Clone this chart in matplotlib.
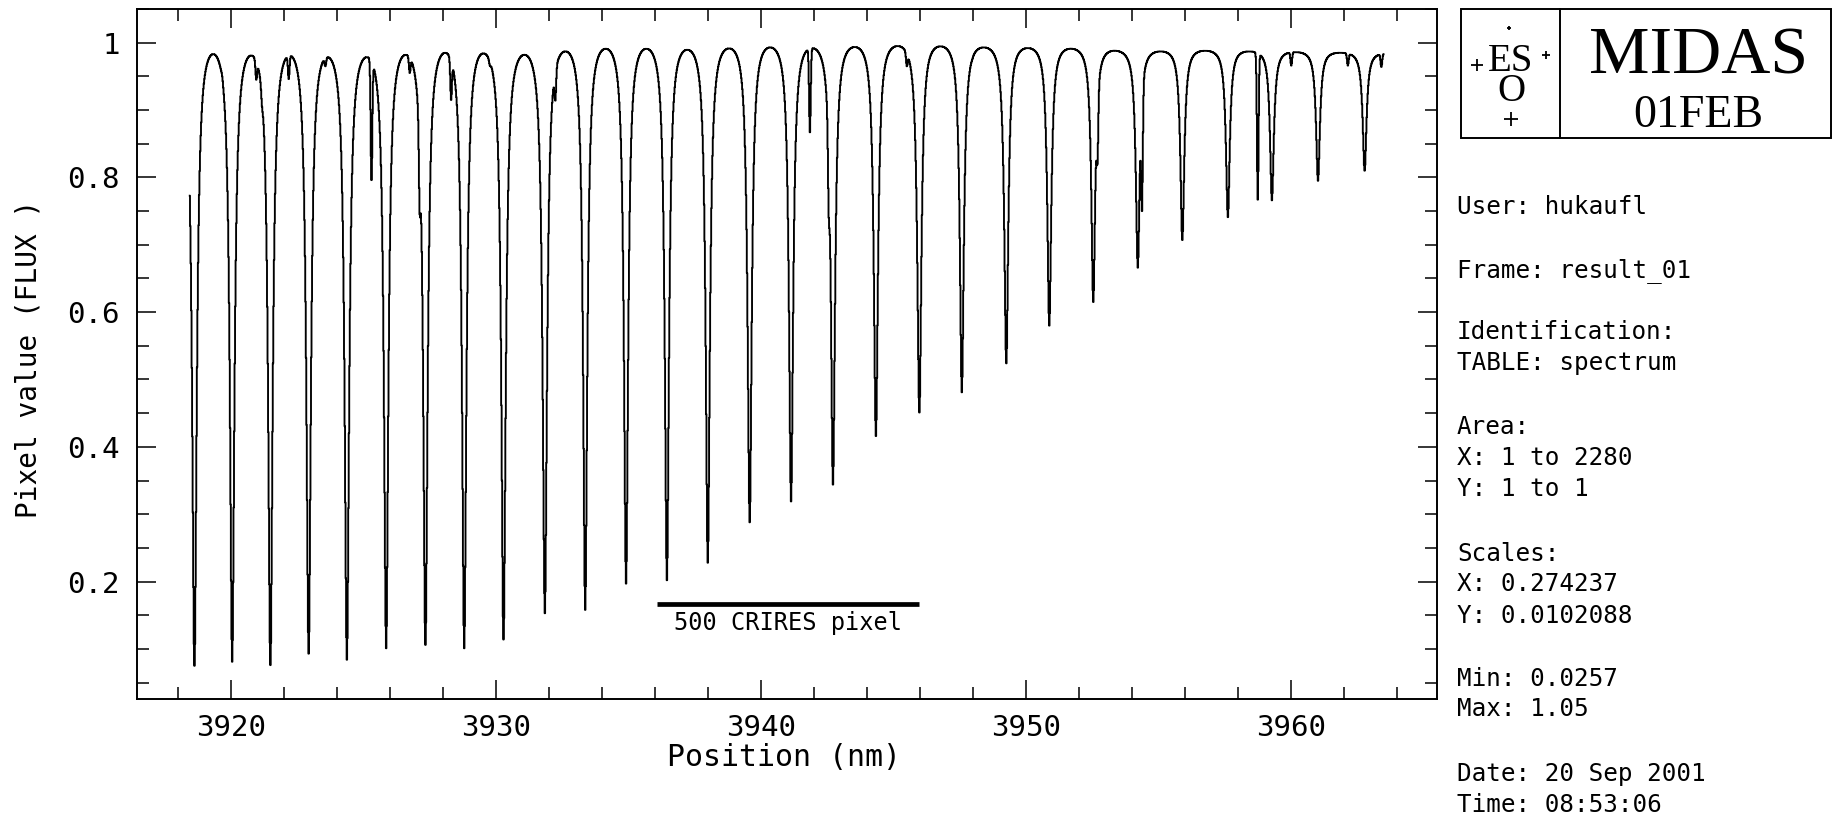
"""
CRIRES etalon spectrum, redrawn in the old MIDAS plot layout.
Writes out.png (1832 x 816 px).
"""
import numpy as np
import matplotlib
matplotlib.use("Agg")
import matplotlib.pyplot as plt
from matplotlib.lines import Line2D
from matplotlib.patches import Rectangle
from matplotlib.ticker import FixedLocator, FixedFormatter, MultipleLocator

# ──────────────────────────────────────────────────────────────────────────────
# Data
N_PIXELS = 2280
WAVE_START, WAVE_END = 3918.44, 3963.49      # nm, first / last pixel

# main (etalon) absorption lines: centre [nm], minimum flux, arch top after it,
# half width at half depth [nm]
line_center = [3918.61, 3920.04, 3921.48, 3922.93, 3924.38, 3925.85, 3927.33,
               3928.80, 3930.29, 3931.84, 3933.37, 3934.91, 3936.45, 3937.99,
               3939.57, 3941.14, 3942.72, 3944.34, 3945.97, 3947.58, 3949.25,
               3950.88, 3952.54, 3954.21, 3955.89, 3957.61, 3959.28, 3961.02,
               3962.77]
line_min = [0.075, 0.081, 0.076, 0.093, 0.084, 0.101, 0.106, 0.101, 0.114,
            0.153, 0.158, 0.197, 0.202, 0.228, 0.288, 0.319, 0.344, 0.416,
            0.451, 0.481, 0.524, 0.580, 0.615, 0.666, 0.707, 0.741, 0.766,
            0.795, 0.810]
line_peak = [0.984, 0.982, 0.980, 0.982, 0.975, 0.982, 0.982, 0.988, 0.980,
             0.984, 0.990, 0.992, 0.990, 0.989, 0.994, 0.992, 0.992, 0.995,
             0.995, 0.994, 0.992, 0.992, 0.990, 0.986, 0.988, 0.988, 0.986,
             0.986, 0.984]
line_hwhm = [0.106, 0.104, 0.104, 0.104, 0.104, 0.102, 0.102, 0.102, 0.102,
             0.102, 0.096, 0.096, 0.096, 0.096, 0.096, 0.096, 0.096, 0.096,
             0.096, 0.092, 0.092, 0.092, 0.090, 0.090, 0.090, 0.088, 0.088,
             0.088, 0.088]

# narrow extra (telluric) features: centre [nm], minimum flux
extra_center = [3919.66, 3920.95, 3921.17, 3922.18, 3923.56, 3925.30, 3926.75,
                3927.12, 3928.30, 3929.77, 3932.23, 3941.85, 3942.55, 3945.50,
                3947.28, 3947.97, 3952.70, 3954.38, 3958.75, 3960.02, 3962.15,
                3963.42]
extra_min = [0.950, 0.945, 0.905, 0.946, 0.965, 0.796, 0.955, 0.745, 0.915,
             0.966, 0.914, 0.867, 0.740, 0.965, 0.960, 0.975, 0.820, 0.750,
             0.767, 0.966, 0.966, 0.964]

SCALE_BAR_PIXELS = 500
SCALE_BAR_START = 3936.06
SCALE_BAR_LEVEL = 0.167
SCALE_BAR_TEXT = "500 CRIRES pixel"

XLIM = (3916.45, 3965.51)
YLIM = (0.0257, 1.05)
xticks_major = [3920, 3930, 3940, 3950, 3960]
xtick_labels = ["3920", "3930", "3940", "3950", "3960"]
yticks_major = [0.2, 0.4, 0.6, 0.8, 1.0]
ytick_labels = ["0.2", "0.4", "0.6", "0.8", "1"]

info_text = ["User: hukaufl", "Frame: result_01", "Identification:",
             "TABLE: spectrum", "Area:", "X: 1 to 2280", "Y: 1 to 1",
             "Scales:", "X: 0.274237", "Y: 0.0102088", "Min: 0.0257",
             "Max: 1.05", "Date: 20 Sep 2001", "Time: 08:53:06"]

# ──────────────────────────────────────────────────────────────────────────────
# Layout (pixel positions in the 1832 x 816 frame)
W, H = 1832, 816
AX_LEFT, AX_RIGHT, AX_TOP, AX_BOTTOM = 137, 1437, 9, 699
info_baseline = [214, 277, 339, 370, 434, 465, 496, 561, 591, 623, 686, 716,
                 781, 812]
MONO = "DejaVu Sans Mono"
SERIF = "Liberation Serif"


def fx(x):
    return x / W


def fy(y):
    return 1 - y / H


def build_spectrum():
    wl = np.linspace(WAVE_START, WAVE_END, N_PIXELS)
    c = np.asarray(line_center)
    c = wl[np.abs(wl[:, None] - c).argmin(axis=0)]      # snap to pixels
    d = np.asarray(line_min)
    p = np.asarray(line_peak)

    gaps = np.diff(c)
    period = np.empty_like(c)
    period[1:-1] = 0.5 * (gaps[:-1] + gaps[1:])
    period[0], period[-1] = gaps[0], gaps[-1]
    fin = (period / (np.pi * np.asarray(line_hwhm))) ** 2
    amp = (p - d) * (1 + fin) / fin
    env = d + amp

    idx = np.arange(len(c))
    c_ext = np.r_[c[0] - gaps[0], c, c[-1] + gaps[-1]]
    i_ext = np.r_[-1, idx, len(c)]
    phase = np.interp(wl, c_ext, i_ext)
    F = np.interp(phase, idx, fin)
    A = np.interp(phase, idx, amp)
    E = np.interp(phase, idx, env)
    flux = E - A / (1 + F * np.sin(np.pi * phase) ** 2)

    for cx, m in zip(extra_center, extra_min):
        k = np.abs(wl - cx).argmin()
        a = 1 - m / flux[k]
        flux = flux * (1 - a * np.exp(-0.5 * ((wl - wl[k]) / 0.03) ** 2))
    return wl, flux


def main():
    plt.rcParams["font.family"] = MONO
    wl, flux = build_spectrum()

    fig = plt.figure(figsize=(W / 100, H / 100), dpi=100, facecolor="white")
    ax = fig.add_axes([fx(AX_LEFT), fy(AX_BOTTOM),
                       (AX_RIGHT - AX_LEFT) / W, (AX_BOTTOM - AX_TOP) / H])

    ax.step(wl, flux, where="mid", color="black", lw=1.35)

    # scale bar
    step = (WAVE_END - WAVE_START) / (N_PIXELS - 1)
    x0, x1 = SCALE_BAR_START, SCALE_BAR_START + SCALE_BAR_PIXELS * step
    ax.plot([x0, x1], [SCALE_BAR_LEVEL] * 2, color="black", lw=3.4,
            solid_capstyle="butt")
    ax.text(0.5 * (x0 + x1), 0.128, SCALE_BAR_TEXT, ha="center",
            va="baseline", fontsize=17)

    ax.set_xlim(*XLIM)
    ax.set_ylim(*YLIM)
    ax.xaxis.set_major_locator(FixedLocator(xticks_major))
    ax.xaxis.set_major_formatter(FixedFormatter(xtick_labels))
    ax.xaxis.set_minor_locator(MultipleLocator(2))
    ax.yaxis.set_major_locator(FixedLocator(yticks_major))
    ax.yaxis.set_major_formatter(FixedFormatter(ytick_labels))
    ax.yaxis.set_minor_locator(MultipleLocator(0.05))
    ax.tick_params(which="both", direction="in", top=True, right=True,
                   width=1.1, labelsize=21, color="black")
    ax.tick_params(which="major", length=13.5)
    ax.tick_params(which="minor", length=8.5)
    ax.tick_params(axis="x", pad=10.5)
    ax.tick_params(axis="y", pad=12.5)
    for s in ax.spines.values():
        s.set_linewidth(1.4)

    ax.set_xlabel("Position (nm)", fontsize=21.5, va="baseline")
    ax.xaxis.set_label_coords(0.4977, (AX_BOTTOM - 766) / 690)
    ax.set_ylabel("Pixel value (FLUX )", fontsize=20, va="baseline")
    ax.yaxis.set_label_coords((37 - AX_LEFT) / 1300, (AX_BOTTOM - 359) / 690)

    # MIDAS / ESO logo box
    fig.add_artist(Rectangle((fx(1461), fy(138)), (1831 - 1461) / W,
                             (138 - 9) / H, transform=fig.transFigure,
                             fill=False, lw=1.4, ec="black"))
    fig.add_artist(Line2D([fx(1560)] * 2, [fy(9), fy(138)],
                          transform=fig.transFigure, lw=1.4, color="black"))
    fig.text(fx(1699), fy(74), "MIDAS", family=SERIF, fontsize=49,
             ha="center", va="baseline")
    fig.text(fx(1698), fy(127), "01FEB", family=SERIF, fontsize=33,
             ha="center", va="baseline")
    # two-line "ES / O"; baseline here is the one of the last line
    fig.text(fx(1511), fy(101), "ES\nO", family=SERIF, fontsize=28,
             ha="center", va="baseline", multialignment="center",
             linespacing=0.74)
    for (px, py, ms) in [(1509, 28, 3), (1477, 65, 8), (1546, 55, 6),
                         (1511, 119, 10)]:
        fig.add_artist(Line2D([fx(px)], [fy(py)], marker="+", ms=ms, mew=1.3,
                              color="black", transform=fig.transFigure))

    # info panel
    for s, yb in zip(info_text, info_baseline):
        fig.text(fx(1457), fy(yb), s, fontsize=17.5, ha="left",
                 va="baseline")

    fig.savefig("out.png", dpi=100, facecolor="white")


if __name__ == "__main__":
    main()
